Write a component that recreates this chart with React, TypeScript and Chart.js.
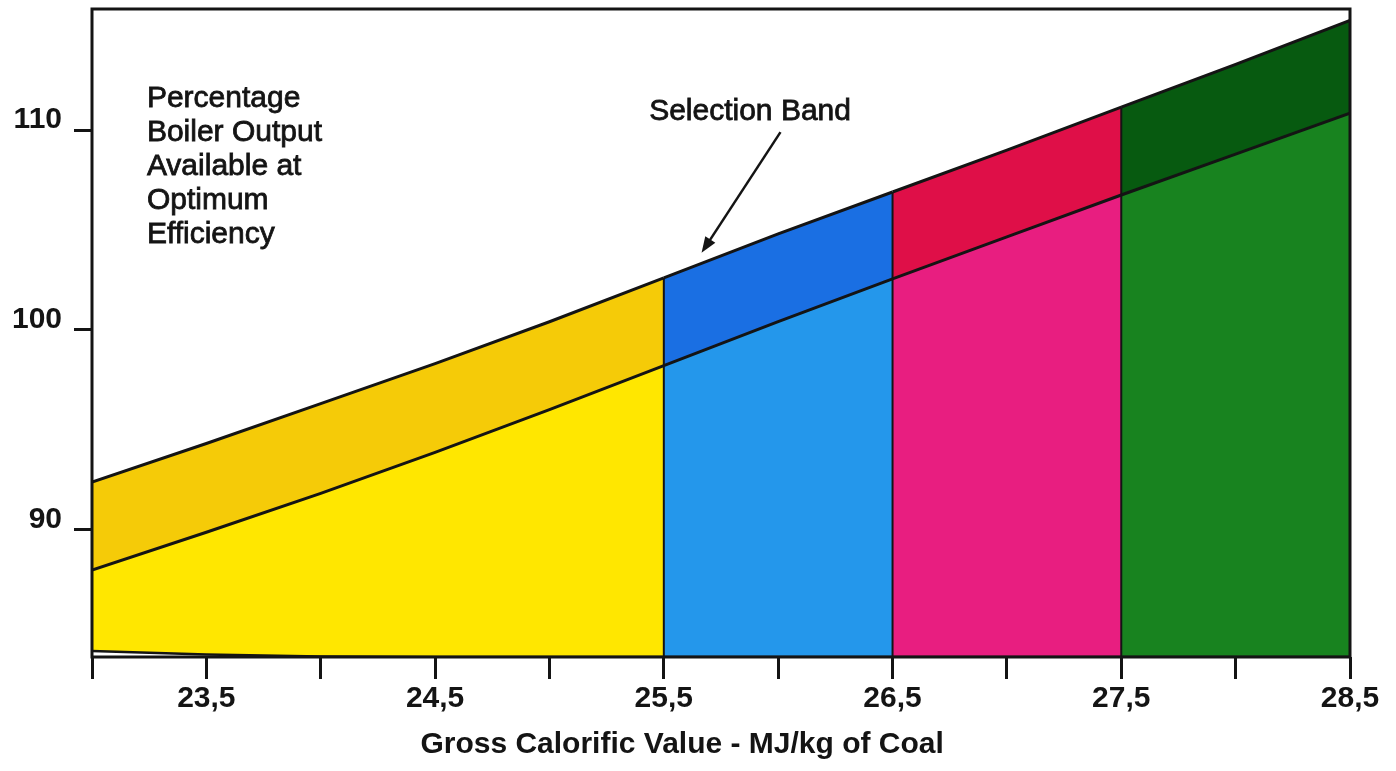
import React, { useEffect, useRef } from "react";
import { Chart, registerables } from "chart.js";

Chart.register(...registerables);

// ---- data ----
const xKnots = [23, 23.5, 24, 24.5, 25, 25.5, 26, 26.5, 27, 27.5, 28, 28.5];
const upperBand = [92.36, 94.3, 96.3, 98.3, 100.4, 102.6, 104.8, 106.9, 109.0, 111.15, 113.3, 115.5];
const lowerBand = [87.95, 89.85, 91.8, 93.85, 96.0, 98.2, 100.4, 102.55, 104.65, 106.75, 108.8, 110.85];
const baseLine = [83.9, 83.72, 83.63, 83.6, 83.6, 83.6, 83.6, 83.6, 83.6, 83.6, 83.6, 83.6];
const segmentBounds = [23, 25.5, 26.5, 27.5, 28.5];

const xTickValues = [23, 23.5, 24, 24.5, 25, 25.5, 26, 26.5, 27, 27.5, 28, 28.5];
const xLabelValues = [23.5, 24.5, 25.5, 26.5, 27.5, 28.5];
const xTickLabels = ["23,5", "24,5", "25,5", "26,5", "27,5", "28,5"];
const yTickValues = [90, 100, 110];
const yTickLabels = ["90", "100", "110"];

const xAxisTitle = "Gross Calorific Value - MJ/kg of Coal";
const noteLines = ["Percentage", "Boiler Output", "Available at", "Optimum", "Efficiency"];
const bandLabel = "Selection Band";

// annotation anchors (data units)
const noteAnchor = { x: 23.24, y: 111.15 };
const bandLabelAnchor = { x: 25.877, y: 110.5 };
const arrowTail = { x: 26.01, y: 109.9 };
const arrowTip = { x: 25.665, y: 103.85 };
const titleAnchorX = 25.58;

// ---- styles ----
const INK = "#141414";
const lightColors = ["#FFE700", "#2497EB", "#E81E80", "#18831F"];
const bandColors = ["#F5CB08", "#1A6FE3", "#DF0F48", "#075A10"];
const FONT = "'Liberation Sans', Arial, Helvetica, sans-serif";

export default function App() {
  const ref = useRef<HTMLCanvasElement | null>(null);

  useEffect(() => {
    document.body.style.margin = "0";
    const canvas = ref.current;
    if (!canvas) return;

    const datasets: any[] = [];
    for (let s = 0; s < segmentBounds.length - 1; s++) {
      const i0 = xKnots.indexOf(segmentBounds[s]);
      const i1 = xKnots.indexOf(segmentBounds[s + 1]);
      const pts = (arr: number[]) =>
        xKnots.slice(i0, i1 + 1).map((x, k) => ({ x, y: arr[i0 + k] }));
      datasets.push({
        data: pts(baseLine),
        borderColor: INK,
        borderWidth: 2.5,
        pointRadius: 0,
        fill: false,
      });
      datasets.push({
        data: pts(lowerBand),
        borderColor: INK,
        borderWidth: 3,
        backgroundColor: lightColors[s],
        fill: "-1",
        pointRadius: 0,
      });
      datasets.push({
        data: pts(upperBand),
        borderColor: INK,
        borderWidth: 3,
        backgroundColor: bandColors[s],
        fill: "-1",
        pointRadius: 0,
      });
    }
    segmentBounds.slice(1, -1).forEach((b) => {
      const i = xKnots.indexOf(b);
      datasets.push({
        data: [
          { x: b, y: baseLine[i] },
          { x: b, y: upperBand[i] },
        ],
        borderColor: INK,
        borderWidth: 2,
        pointRadius: 0,
        fill: false,
      });
    });

    const boldText = (ctx: CanvasRenderingContext2D, t: string, x: number, y: number) => {
      ctx.fillText(t, x, y);
      ctx.strokeText(t, x, y);
    };

    const annotate = {
      id: "annotate",
      afterDraw(chart: any) {
        const { ctx, chartArea, scales } = chart;
        const xs = scales.x;
        const ys = scales.y;
        ctx.save();
        // frame
        ctx.strokeStyle = INK;
        ctx.lineWidth = 3;
        ctx.strokeRect(
          chartArea.left,
          chartArea.top,
          chartArea.right - chartArea.left,
          chartArea.bottom - chartArea.top
        );
        // note text
        ctx.fillStyle = INK;
        ctx.lineWidth = 0.8;
        ctx.font = `30px ${FONT}`;
        ctx.textAlign = "left";
        ctx.textBaseline = "alphabetic";
        const nx = xs.getPixelForValue(noteAnchor.x);
        const ny = ys.getPixelForValue(noteAnchor.y);
        noteLines.forEach((t, i) => boldText(ctx, t, nx, ny + i * 34));
        // selection band label
        ctx.textAlign = "center";
        boldText(
          ctx,
          bandLabel,
          xs.getPixelForValue(bandLabelAnchor.x),
          ys.getPixelForValue(bandLabelAnchor.y)
        );
        // arrow
        const tx = xs.getPixelForValue(arrowTail.x);
        const ty = ys.getPixelForValue(arrowTail.y);
        const hx = xs.getPixelForValue(arrowTip.x);
        const hy = ys.getPixelForValue(arrowTip.y);
        const ang = Math.atan2(hy - ty, hx - tx);
        const headLen = 16;
        const headW = 6;
        ctx.lineWidth = 2.5;
        ctx.beginPath();
        ctx.moveTo(tx, ty);
        ctx.lineTo(hx - Math.cos(ang) * headLen * 0.8, hy - Math.sin(ang) * headLen * 0.8);
        ctx.stroke();
        ctx.beginPath();
        ctx.moveTo(hx, hy);
        ctx.lineTo(
          hx - Math.cos(ang) * headLen - Math.sin(ang) * headW,
          hy - Math.sin(ang) * headLen + Math.cos(ang) * headW
        );
        ctx.lineTo(
          hx - Math.cos(ang) * headLen + Math.sin(ang) * headW,
          hy - Math.sin(ang) * headLen - Math.cos(ang) * headW
        );
        ctx.closePath();
        ctx.fill();
        // axis title
        ctx.font = `bold 30px ${FONT}`;
        ctx.textAlign = "center";
        ctx.textBaseline = "middle";
        ctx.fillText(xAxisTitle, xs.getPixelForValue(titleAnchorX), 745);
        ctx.restore();
      },
    };

    const chart = new Chart(canvas, {
      type: "line",
      data: { datasets },
      plugins: [annotate],
      options: {
        animation: false,
        responsive: false,
        events: [],
        layout: { padding: { top: 9, right: 46, left: 0, bottom: 0 } },
        elements: { line: { tension: 0 } },
        plugins: {
          legend: { display: false },
          tooltip: { enabled: false },
          title: { display: false },
          filler: { drawTime: "beforeDatasetsDraw" },
        } as any,
        scales: {
          x: {
            type: "linear",
            min: 23,
            max: 28.5,
            afterBuildTicks: (s: any) => {
              s.ticks = xTickValues.map((v) => ({ value: v }));
            },
            afterFit: (s: any) => {
              s.height = 771 - 657;
              s.paddingLeft = 0;
              s.paddingRight = 0;
            },
            ticks: {
              autoSkip: false,
              maxRotation: 0,
              padding: 2,
              color: INK,
              font: { family: FONT, size: 30, weight: "bold" },
              callback: (v: any) => {
                const i = xLabelValues.indexOf(Number(v));
                return i >= 0 ? xTickLabels[i] : "";
              },
            },
            grid: {
              drawOnChartArea: false,
              drawTicks: true,
              tickLength: 22,
              lineWidth: 3,
              color: INK,
            },
            border: { display: false },
          },
          y: {
            type: "linear",
            min: 83.6,
            max: 116.07,
            afterBuildTicks: (s: any) => {
              s.ticks = yTickValues.map((v) => ({ value: v }));
            },
            afterFit: (s: any) => {
              s.width = 92;
              s.paddingTop = 0;
              s.paddingBottom = 0;
            },
            ticks: {
              padding: 12,
              labelOffset: -10,
              color: INK,
              font: { family: FONT, size: 30, weight: "bold" },
              callback: (v: any) => {
                const i = yTickValues.indexOf(Number(v));
                return i >= 0 ? yTickLabels[i] : "";
              },
            },
            grid: {
              drawOnChartArea: false,
              drawTicks: true,
              tickLength: 18,
              lineWidth: 3,
              color: INK,
            },
            border: { display: false },
          },
        },
      } as any,
    });

    return () => chart.destroy();
  }, []);

  return (
    <div style={{ width: 1396, height: 771, background: "#fff" }}>
      <canvas ref={ref} width={1396} height={771} style={{ display: "block" }} />
    </div>
  );
}
